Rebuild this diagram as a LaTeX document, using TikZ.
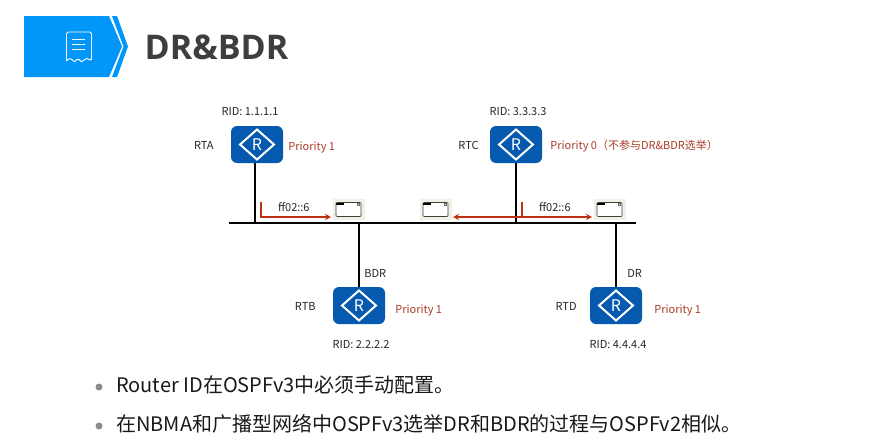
\documentclass[tikz,border=0pt]{standalone}
\usepackage{xcolor}
\usepackage{fontspec}
\setmainfont{Noto Sans CJK SC}
\newfontfamily\titlefont{Open Sans}
\usepackage{tikz}
\usetikzlibrary{
  positioning,
  arrows.meta
}
\definecolor{routerblue}{RGB}{5,90,175}
\definecolor{bannerblue}{RGB}{0,150,250}
\definecolor{prired}{RGB}{170,60,40}
\definecolor{arrred}{RGB}{190,50,20}
\definecolor{mailbg}{RGB}{242,240,230}
\definecolor{titlegray}{RGB}{62,62,62}

\begin{document}
\begin{tikzpicture}[
  x=1pt, y=-1pt,
  >={Stealth[length=6pt,width=6pt]},
  router/.style={fill=routerblue, rounded corners=6pt, inner sep=0pt,
                 minimum width=52pt, minimum height=37pt,
                 text=white, font=\fontsize{16}{16}\selectfont,
                 path picture={
                   \draw[white, line width=2pt, sharp corners]
                     ([xshift=-17pt]path picture bounding box.center)
                     -- ([yshift=15pt]path picture bounding box.center)
                     -- ([xshift=17pt]path picture bounding box.center)
                     -- ([yshift=-15pt]path picture bounding box.center) -- cycle;
                 }},
  mail/.style={fill=mailbg, inner sep=0pt, minimum width=32pt, minimum height=21pt,
               path picture={
                 \draw[black!75, fill=white, rounded corners=1pt, line width=0.7pt]
                   ([xshift=-13pt,yshift=-7pt]path picture bounding box.center)
                   rectangle ([xshift=12pt,yshift=7pt]path picture bounding box.center);
                 \fill[black]
                   ([xshift=-13pt,yshift=7pt]path picture bounding box.center)
                   rectangle ([xshift=-5pt,yshift=4.5pt]path picture bounding box.center);
                 \draw[black!60, line width=0.4pt]
                   ([xshift=8pt,yshift=6.5pt]path picture bounding box.center)
                   rectangle ([xshift=10.5pt,yshift=4pt]path picture bounding box.center);
               }},
  lbl/.style={inner sep=0pt, font=\fontsize{11}{13}\selectfont, text=black!85},
  pri/.style={inner sep=0pt, font=\fontsize{11}{13}\selectfont, text=prired},
  link/.style={line width=1.8pt, black},
  arr/.style={line width=1.2pt, arrred},
  item/.style={inner sep=0pt, anchor=west, font=\fontsize{20}{24}\selectfont, text=black!90},
  dot/.style={circle, fill=black!45, inner sep=0pt, minimum size=7pt},
]
\useasboundingbox (0,0) rectangle (881,434);

% banner
\fill[bannerblue] (24,16) -- (109,16) -- (122,46.5) -- (109,77) -- (24,77) -- cycle;
\fill[bannerblue] (112,16) -- (117,16) -- (128,46.5) -- (117,77) -- (112,77) -- (123.5,46.5) -- cycle;
\draw[white, line width=0.9pt, rounded corners=1.5pt]
  (66.5,61) -- (66.5,32) -- (91.5,32) -- (91.5,61)
  .. controls (88,58) and (86,58) .. (83,61)
  .. controls (81,62) and (80,60) .. (78,59)
  .. controls (76,60) and (75,62) .. (73,61)
  .. controls (71,58) and (69,58) .. (66.5,61);
\draw[white, line width=0.9pt] (72,39) -- (85,39) (72,44) -- (85,44) (72,49) -- (85,49);
\node[inner sep=0pt, anchor=west, text=titlegray, font=\titlefont\bfseries\fontsize{34}{36}\selectfont] (title) at (144.5,47) {DR\&BDR};

% network
\node[fill=black, inner sep=0pt, minimum width=407pt, minimum height=2pt] (bus) at (432.5,223) {};
\node[router] (rta) at (257,144.5) {R};
\node[router] (rtc) at (516,144.5) {R};
\node[router] (rtb) at (359,305.5) {R};
\node[router] (rtd) at (616,305.5) {R};

\draw[link] ([xshift=-2pt]rta.south) -- ([xshift=-2pt]rta.south |- bus.center);
\draw[link] (rtc) -- (rtc |- bus.center);
\draw[link] (rtb) -- (rtb |- bus.center);
\draw[link] (rtd) -- (rtd |- bus.center);

\node[lbl, above=10pt of rta, xshift=-7pt] (rida) {RID: 1.1.1.1};
\node[lbl, left=17pt of rta, yshift=-1pt] (namea) {RTA};
\node[pri, right=5pt of rta, yshift=-3pt] (pria) {Priority 1};

\node[lbl, above=10pt of rtc, xshift=2pt] (ridc) {RID: 3.3.3.3};
\node[lbl, left=11pt of rtc, yshift=-1pt] (namec) {RTC};
\node[pri, right=8pt of rtc, yshift=-1.5pt] (pric) {Priority 0（不参与DR\&BDR选举）};

\node[lbl, below=16pt of rtb, xshift=2pt] (ridb) {RID: 2.2.2.2};
\node[lbl, left=17pt of rtb, yshift=-1pt] (nameb) {RTB};
\node[pri, right=10pt of rtb, yshift=-5pt] (prib) {Priority 1};
\node[lbl, above right=9pt and -21pt of rtb] (roleb) {BDR};

\node[lbl, below=16pt of rtd, xshift=2pt] (ridd) {RID: 4.4.4.4};
\node[lbl, left=13pt of rtd, yshift=-1pt] (named) {RTD};
\node[pri, right=12pt of rtd, yshift=-5pt] (prid) {Priority 1};
\node[lbl, above right=9pt and -15pt of rtd] (roled) {DR};

% hello packets
\node[mail] (mail1) at (349,209.5) {};
\node[mail] (mail2) at (436,209.5) {};
\node[mail] (mail3) at (610,209.5) {};
\node[lbl, left=23pt of mail1, yshift=2.5pt] (ff1) {ff02::6};
\node[lbl, left=23pt of mail3, yshift=2.5pt] (ff2) {ff02::6};

\coordinate (starta) at (261,202);
\coordinate (enda) at (331,217);
\coordinate (startc) at (522,202);
\coordinate (cornerc) at (522,217);
\coordinate (endl) at (453,217);
\coordinate (endr) at (592,217);
\draw[arr, ->] (starta) |- (enda);
\draw[arr, <->] (endl) -- (endr);
\draw[arr] (startc) -- (cornerc);

% bullets
\node[dot] (dot1) at (99,387) {};
\node[dot] (dot2) at (99,426) {};
\node[item] (item1) at (116,385) {Router ID在OSPFv3中必须手动配置。};
\node[item] (item2) at (116,424) {在NBMA和广播型网络中OSPFv3选举DR和BDR的过程与OSPFv2相似。};

\end{tikzpicture}
\end{document}
